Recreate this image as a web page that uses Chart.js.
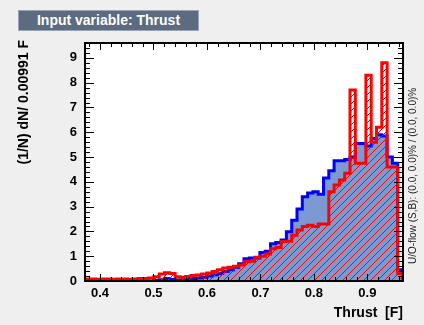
<!DOCTYPE html>
<html>
<head>
<meta charset="utf-8">
<script src="https://cdn.jsdelivr.net/npm/chart.js@4"></script>
<style>
  body { margin: 0; background: #efefef; }
  #wrap { position: relative; width: 424px; height: 325px; }
  #title-box {
    position: absolute; left: 18px; top: 10px; width: 179px; height: 19px;
    background: #5b6b80; border: 1px solid #98a4b4; color: #fff;
    font: bold 14px "Liberation Sans", Arial, sans-serif;
    line-height: 19px; text-align: center;
  }
</style>
</head>
<body>
<div id="wrap">
  <canvas id="thrustChart" width="424" height="325"></canvas>
  <div id="title-box">Input variable: Thrust</div>
</div>
<script>
// histogram binning (60 bins of 0.00991)
const xMin = 0.372;
const binWidth = 0.00991;
const xTickValues = [0.4, 0.5, 0.6, 0.7, 0.8, 0.9];
const yTickValues = [0, 1, 2, 3, 4, 5, 6, 7, 8, 9];

// signal (blue, filled)
const signalValues = [
  0, 0, 0, 0, 0, 0, 0, 0, 0, 0,
  0, 0, 0, 0.02, 0.05, 0.1, 0.06, 0.04, 0.05, 0.08,
  0.1, 0.12, 0.15, 0.2, 0.25, 0.3, 0.38, 0.45, 0.55, 0.7,
  0.9, 0.93, 0.93, 1.15, 1.2, 1.5, 1.55, 1.65, 1.99, 2.45,
  2.9, 3.4, 3.55, 3.6, 3.5, 4.15, 4.45, 4.85, 4.85, 4.9,
  5.0, 5.55, 5.55, 5.45, 5.75, 5.9, 5.85, 5.0, 4.75, 0.45,
];

// background (red, hatched)
const backgroundValues = [
  0.08, 0.08, 0.07, 0.08, 0.08, 0.07, 0.08, 0.08, 0.07, 0.08,
  0.1, 0.1, 0.12, 0.17, 0.28, 0.33, 0.3, 0.17, 0.15, 0.18,
  0.22, 0.24, 0.28, 0.32, 0.38, 0.45, 0.52, 0.55, 0.6, 0.65,
  0.78, 0.8, 0.96, 1.0, 1.09, 1.3, 1.35, 1.59, 1.6, 1.85,
  2.06, 2.2, 2.25, 2.2, 2.3, 2.3, 3.6, 3.87, 4.07, 4.35,
  7.7, 4.75, 4.75, 8.3, 5.6, 6.2, 8.8, 4.6, 4.6, 0.3,
];

const nBins = signalValues.length;
const xMax = xMin + nBins * binWidth;

// step outline points at the left bin edges
const histPoints = (values) => {
  const pts = [{ x: xMin, y: 0 }];
  values.forEach((v, i) => pts.push({ x: xMin + i * binWidth, y: v }));
  pts.push({ x: xMax, y: values[nBins - 1] });
  pts.push({ x: xMax, y: 0 });
  return pts;
};

const makeHatch = () => {
  const s = 7;
  const c = document.createElement("canvas");
  c.width = s;
  c.height = s;
  const g = c.getContext("2d");
  g.strokeStyle = "#ff0000";
  g.lineWidth = 1;
  g.beginPath();
  g.moveTo(0, s);
  g.lineTo(s, 0);
  g.moveTo(-1, 1);
  g.lineTo(1, -1);
  g.moveTo(s - 1, s + 1);
  g.lineTo(s + 1, s - 1);
  g.stroke();
  return g.createPattern(c, "repeat");
};

const FONT = '"Liberation Sans", Arial, sans-serif';

const rootFrame = {
  id: "rootFrame",
  beforeDraw(chart) {
    const { ctx, chartArea: a } = chart;
    ctx.save();
    ctx.fillStyle = "#efefef";
    ctx.fillRect(0, 0, chart.width, chart.height);
    ctx.fillStyle = "#ffffff";
    ctx.fillRect(a.left, a.top, a.right - a.left, a.bottom - a.top);
    ctx.restore();
  },
  afterDatasetsDraw(chart) {
    const { ctx, chartArea: a, scales } = chart;
    const x = scales.x;
    const y = scales.y;
    ctx.save();
    ctx.strokeStyle = "#000";
    ctx.lineWidth = 1;
    ctx.beginPath();
    // x ticks every 0.02, long every 0.1
    for (let k = 19; k <= 48; k++) {
      const v = k * 0.02;
      if (v < xMin || v > xMax) continue;
      const px = Math.round(x.getPixelForValue(v)) + 0.5;
      const len = k % 5 === 0 ? 7 : 4;
      ctx.moveTo(px, a.bottom);
      ctx.lineTo(px, a.bottom - len);
      ctx.moveTo(px, a.top);
      ctx.lineTo(px, a.top + len);
    }
    // y ticks every 0.2, long every 1
    for (let k = 0; k <= 48; k++) {
      const v = k * 0.2;
      const py = Math.round(y.getPixelForValue(v)) + 0.5;
      const len = k % 5 === 0 ? 9 : 5;
      ctx.moveTo(a.left, py);
      ctx.lineTo(a.left + len, py);
      ctx.moveTo(a.right, py);
      ctx.lineTo(a.right - len, py);
    }
    ctx.stroke();
    ctx.lineWidth = 2;
    ctx.strokeRect(a.left, a.top, a.right - a.left, a.bottom - a.top);
    ctx.restore();
  },
  afterDraw(chart) {
    const { ctx, chartArea: a } = chart;
    ctx.save();
    ctx.fillStyle = "#000";
    ctx.font = "bold 14px " + FONT;
    ctx.textAlign = "right";
    ctx.textBaseline = "middle";
    ctx.fillText("Thrust  [F]", a.right, 313);

    ctx.save();
    ctx.translate(24, 40);
    ctx.rotate(-Math.PI / 2);
    ctx.textAlign = "right";
    ctx.fillText("(1/N) dN/ 0.00991 F", 0, 0);
    ctx.restore();

    ctx.save();
    ctx.translate(413, 264);
    ctx.rotate(-Math.PI / 2);
    ctx.font = "10px " + FONT;
    ctx.fillStyle = "#222";
    ctx.textAlign = "left";
    ctx.fillText("U/O-flow (S,B): (0.0, 0.0)% / (0.0, 0.0)%", 0, 0);
    ctx.restore();
    ctx.restore();
  },
};

const chart = new Chart(document.getElementById("thrustChart").getContext("2d"), {
  type: "line",
  data: {
    datasets: [
      {
        label: "Background",
        data: histPoints(backgroundValues),
        stepped: true,
        borderColor: "#ff0000",
        backgroundColor: makeHatch(),
        borderWidth: 3,
        pointRadius: 0,
        fill: "origin",
        order: 0,
      },
      {
        label: "Signal",
        data: histPoints(signalValues),
        stepped: true,
        borderColor: "#0000ff",
        backgroundColor: "#7d99d1",
        borderWidth: 3,
        pointRadius: 0,
        fill: "origin",
        order: 1,
      },
    ],
  },
  options: {
    responsive: false,
    animation: false,
    layout: { padding: { top: 43, right: 21, left: 0, bottom: 0 } },
    plugins: {
      legend: { display: false },
      tooltip: { enabled: false },
    },
    scales: {
      x: {
        type: "linear",
        min: xMin,
        max: xMax,
        grid: { display: false, drawTicks: false },
        border: { display: false },
        afterBuildTicks: (s) => {
          s.ticks = xTickValues.map((v) => ({ value: v }));
        },
        afterFit: (s) => {
          s.height = 44;
        },
        ticks: {
          padding: 5,
          color: "#000",
          font: { family: FONT, size: 13, weight: "bold" },
          callback: (v) => v.toFixed(1),
        },
      },
      y: {
        min: 0,
        max: 9.6,
        grid: { display: false, drawTicks: false },
        border: { display: false },
        afterBuildTicks: (s) => {
          s.ticks = yTickValues.map((v) => ({ value: v }));
        },
        afterFit: (s) => {
          s.width = 85;
        },
        ticks: {
          padding: 8,
          color: "#000",
          font: { family: FONT, size: 13, weight: "bold" },
        },
      },
    },
  },
  plugins: [rootFrame],
});
</script>
</body>
</html>
